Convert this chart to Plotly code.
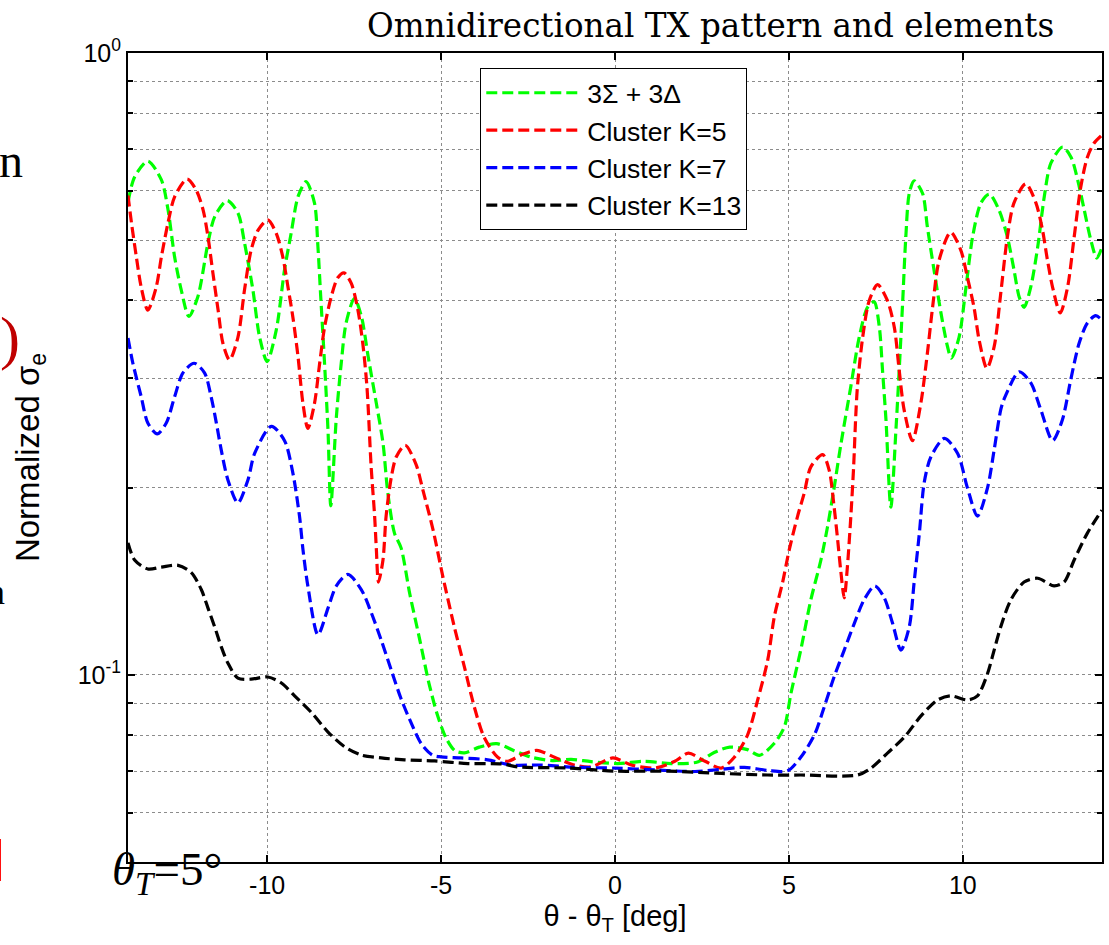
import plotly.graph_objects as go

# ---------------- data ----------------
green_x = [-14.00, -13.81, -13.43, -13.04, -12.85, -12.66, -12.47, -12.25, -11.99, -11.70, -11.51, -11.15,
           -10.84, -10.65, -10.41, -10.22, -10.00, -9.74, -9.50, -9.31, -9.11, -8.88, -8.64, -8.54, -8.46,
           -8.35, -8.25, -8.17, -8.01, -7.87, -7.73, -7.49, -7.29, -7.10, -6.86, -6.67, -6.53, -6.34, -6.15,
           -5.90, -5.60, -5.35, -5.10, -4.85, -4.60, -4.33, -3.90, -3.40, -2.90, -2.41, -1.80, -1.26, -0.69,
           0.08, 0.84, 1.61, 2.37, 2.85, 3.30, 3.81, 4.15, 4.58, 4.87, 5.06, 5.34, 5.63, 5.92, 6.11, 6.30,
           6.50, 6.78, 7.02, 7.26, 7.45, 7.60, 7.69, 7.79, 7.93, 8.08, 8.17, 8.27, 8.36, 8.46, 8.60, 8.84,
           8.98, 9.17, 9.37, 9.56, 9.67, 9.89, 10.09, 10.28, 10.52, 10.76, 11.04, 11.28, 11.47, 11.62, 11.76,
           11.95, 12.15, 12.34, 12.53, 12.87, 13.11, 13.30, 13.49, 13.68, 13.85, 14.00]
green_y = [0.575, 0.632, 0.670, 0.625, 0.560, 0.470, 0.416, 0.377, 0.406, 0.495, 0.545, 0.579,
           0.553, 0.495, 0.416, 0.350, 0.319, 0.358, 0.448, 0.513, 0.588, 0.621, 0.574, 0.488, 0.406,
           0.317, 0.247, 0.187, 0.260, 0.317, 0.368, 0.403, 0.377, 0.326, 0.273, 0.236, 0.196, 0.169, 0.160,
           0.135, 0.113, 0.097, 0.086, 0.079, 0.0755, 0.0749, 0.0765, 0.0775, 0.0755, 0.0737, 0.0728, 0.0731, 0.0725,
           0.0720, 0.0726, 0.0720, 0.0724, 0.0750, 0.0765, 0.0758, 0.0742, 0.0776, 0.0825, 0.0935, 0.1096, 0.132, 0.153, 0.173, 0.200,
           0.236, 0.291, 0.349, 0.390, 0.398, 0.362, 0.309, 0.257, 0.186, 0.250, 0.309, 0.398, 0.506, 0.595, 0.623, 0.595,
           0.525, 0.448, 0.382, 0.337, 0.323, 0.349, 0.420, 0.506, 0.574, 0.593, 0.559, 0.506, 0.448, 0.405, 0.390,
           0.420, 0.487, 0.587, 0.665, 0.706, 0.680, 0.625, 0.559, 0.500, 0.468, 0.487]

red_x = [-14.00, -13.90, -13.76, -13.62, -13.43, -13.19, -13.04, -12.85, -12.66, -12.30, -12.04, -11.84, -11.70,
         -11.56, -11.41, -11.27, -11.08, -10.84, -10.65, -10.46, -10.26, -9.98, -9.74, -9.55, -9.40, -9.26,
         -9.11, -8.97, -8.83, -8.64, -8.49, -8.35, -8.16, -7.97, -7.79, -7.58, -7.39, -7.25, -7.13, -7.01,
         -6.91, -6.86, -6.80, -6.67, -6.58, -6.43, -6.29, -6.03, -5.72, -5.52, -5.23, -4.95, -4.62, -4.33,
         -4.04, -3.76, -3.37, -3.09, -2.70, -2.25, -1.74, -1.17, -0.69, -0.06, 0.47, 1.15, 1.72, 2.11, 2.59,
         3.05, 3.43, 3.81, 4.10, 4.39, 4.58, 4.82, 5.01, 5.25, 5.44, 5.63, 5.97, 6.16, 6.30, 6.40, 6.49,
         6.59, 6.68, 6.78, 6.86, 6.92, 6.97, 7.12, 7.31, 7.55, 7.83, 8.03, 8.17, 8.31, 8.55, 8.79, 8.98,
         9.13, 9.32, 9.65, 9.94, 10.13, 10.32, 10.47, 10.69, 10.90, 11.09, 11.28, 11.47, 11.81, 12.10, 12.29,
         12.43, 12.58, 12.80, 13.01, 13.20, 13.39, 13.58, 13.77, 14.00]
red_y = [0.590, 0.533, 0.470, 0.420, 0.386, 0.420, 0.470, 0.533, 0.587, 0.627, 0.602, 0.559, 0.506,
         0.443, 0.386, 0.341, 0.321, 0.349, 0.416, 0.482, 0.519, 0.539, 0.513, 0.470, 0.420, 0.376,
         0.324, 0.273, 0.249, 0.273, 0.317, 0.362, 0.405, 0.435, 0.443, 0.426, 0.386, 0.341, 0.290, 0.216,
         0.180, 0.159, 0.141, 0.153, 0.180, 0.208, 0.224, 0.234, 0.218, 0.198, 0.171, 0.144, 0.1195, 0.103,
         0.0886, 0.0793, 0.0737, 0.0726, 0.0743, 0.0756, 0.0737, 0.0716, 0.0711, 0.0735, 0.0716, 0.0708, 0.0726, 0.0748, 0.0726,
         0.0708, 0.0737, 0.0800, 0.0910, 0.1056, 0.124, 0.141, 0.159, 0.180, 0.196, 0.216, 0.226, 0.213, 0.186, 0.165, 0.147,
         0.133, 0.149, 0.180, 0.216, 0.260, 0.291, 0.349, 0.400, 0.424, 0.400, 0.362, 0.309, 0.267, 0.238, 0.273, 0.329,
         0.390, 0.465, 0.515, 0.482, 0.436, 0.390, 0.345, 0.311, 0.337, 0.411, 0.506, 0.574, 0.616, 0.574, 0.519,
         0.465, 0.420, 0.382, 0.420, 0.506, 0.609, 0.680, 0.716, 0.738]

blue_x = [-14.00, -13.86, -13.62, -13.43, -13.16, -12.90, -12.66, -12.42, -12.10, -11.80, -11.61, -11.46, -11.32,
          -11.13, -10.84, -10.55, -10.36, -9.88, -9.50, -9.26, -9.07, -8.97, -8.83, -8.54, -8.25, -8.01, -7.68,
          -7.29, -7.01, -6.72, -6.43, -6.15, -5.86, -5.57, -5.25, -5.00, -4.43, -3.66, -2.99, -2.13, -1.17,
          0.00, 1.15, 2.30, 3.07, 3.72, 4.39, 4.96, 5.34, 5.73, 6.01, 6.30, 6.59, 6.88, 7.16, 7.47, 7.74,
          7.98, 8.22, 8.46, 8.60, 8.75, 8.89, 9.08, 9.47, 9.85, 10.13, 10.42, 10.71, 10.90, 11.09, 11.19,
          11.62, 11.95, 12.24, 12.58, 12.86, 13.10, 13.34, 13.58, 13.82, 14.00]
blue_y = [0.348, 0.317, 0.280, 0.254, 0.244, 0.254, 0.280, 0.306, 0.317, 0.306, 0.280, 0.254, 0.230,
          0.206, 0.189, 0.206, 0.227, 0.251, 0.238, 0.211, 0.180, 0.159, 0.139, 0.116, 0.128, 0.139, 0.145,
          0.137, 0.126, 0.1137, 0.1017, 0.0915, 0.0837, 0.0775, 0.0743, 0.0738, 0.0735, 0.0730, 0.0716, 0.0716, 0.0710,
          0.0708, 0.0703, 0.0699, 0.0705, 0.0710, 0.0702, 0.0701, 0.0737, 0.0800, 0.0886, 0.0993, 0.1096, 0.121, 0.132, 0.139, 0.133,
          0.121, 0.1096, 0.1195, 0.141, 0.169, 0.204, 0.224, 0.240, 0.227, 0.200, 0.180, 0.200, 0.230, 0.267, 0.278,
          0.307, 0.295, 0.267, 0.238, 0.257, 0.298, 0.341, 0.368, 0.378, 0.372]

black_x = [-14.00, -13.81, -13.43, -13.04, -12.56, -12.18, -11.89, -11.70, -11.51, -11.32, -11.13, -10.84,
           -10.46, -9.98, -9.59, -9.21, -8.73, -8.25, -7.77, -7.29, -6.72, -6.05, -5.19, -4.23, -3.26, -2.78,
           -1.34, 0.00, 1.53, 3.07, 4.39, 5.34, 6.97, 7.36, 7.84, 8.31, 8.79, 9.27, 9.66, 10.13, 10.42,
           10.71, 10.90, 11.09, 11.38, 11.76, 12.15, 12.62, 12.91, 13.20, 13.58, 14.00]
black_y = [0.163, 0.153, 0.148, 0.149, 0.150, 0.146, 0.137, 0.128, 0.1195, 0.111, 0.1045, 0.0988,
           0.0984, 0.0992, 0.0970, 0.0925, 0.0870, 0.0809, 0.0766, 0.0743, 0.0735, 0.0730, 0.0727, 0.0720, 0.0719, 0.0711,
           0.0708, 0.0700, 0.0700, 0.0694, 0.0690, 0.0690, 0.0690, 0.0708, 0.0749, 0.0793, 0.0858, 0.0911, 0.0925, 0.0911, 0.0925,
           0.1005, 0.1096, 0.1195, 0.132, 0.141, 0.143, 0.139, 0.141, 0.153, 0.169, 0.184]

series_names = ["3\u03a3 + 3\u0394", "Cluster K=5", "Cluster K=7", "Cluster K=13"]
series_colors = ["#00ff00", "#ff0000", "#0000ff", "#000000"]

x_ticks = [-10, -5, 0, 5, 10]
x_tick_labels = ["-10", "-5", "0", "5", "10"]
y_major_ticks = [0.1, 1]
y_major_labels = ["10<sup>-1</sup>", "10<sup>0</sup>"]
y_minor_ticks = [0.05, 0.06, 0.07, 0.08, 0.09, 0.2, 0.3, 0.4, 0.5, 0.6, 0.7, 0.8, 0.9]

title_text = "Omnidirectional TX pattern and elements"
x_title = "\u03b8 - \u03b8<sub>T</sub> [deg]"
y_title = "Normalized \u03c3<sub>e</sub>"

# ---------------- figure ----------------
W, H = 1109, 945
ML, MR, MT, MB = 128, 5, 53, 83
PW, PH = W - ML - MR, H - MT - MB

def px_x(px):
    return (px - ML) / PW

def px_y(py):
    return (H - MB - py) / PH

fig = go.Figure()
for xs, ys, name, col in zip([green_x, red_x, blue_x, black_x],
                             [green_y, red_y, blue_y, black_y],
                             series_names, series_colors):
    fig.add_trace(go.Scatter(
        x=xs, y=ys, name=name, mode="lines",
        line=dict(color=col, width=3.2, dash="11px,5px", shape="spline", smoothing=0.8),
    ))

grid_col = "#8c8c8c"
fig.update_layout(
    width=W, height=H,
    margin=dict(l=ML, r=MR, t=MT, b=MB),
    paper_bgcolor="white", plot_bgcolor="white",
    font=dict(family="Liberation Sans, Arial", color="black"),
    title=dict(text=title_text, x=367 / W, xanchor="left", xref="container",
               y=1 - 26 / H, yanchor="middle", yref="container",
               font=dict(family="DejaVu Serif", size=32.6, color="black")),
    legend=dict(x=px_x(481), y=px_y(68), xanchor="left", yanchor="top",
                bgcolor="white", bordercolor="black", borderwidth=1,
                font=dict(family="Liberation Sans, Arial", size=26.5, color="black"),
                itemwidth=96, tracegroupgap=0),
    showlegend=True,
)
fig.update_xaxes(
    range=[-14, 14], tickmode="array", tickvals=x_ticks, ticktext=x_tick_labels,
    ticks="inside", ticklen=7, tickwidth=1.5, tickcolor="black",
    showline=True, linecolor="black", linewidth=2, mirror="ticks",
    showgrid=True, gridcolor=grid_col, gridwidth=1, griddash="dot",
    zeroline=False, tickfont=dict(size=25, family="Liberation Sans, Arial"),
    title=dict(text=x_title, font=dict(size=29, family="Liberation Sans, Arial"), standoff=8),
)
fig.update_yaxes(
    type="log", range=[-1.30103, 0], tickmode="array", tickvals=y_major_ticks, ticktext=y_major_labels,
    ticks="inside", ticklen=7, tickwidth=1.5, tickcolor="black",
    showline=True, linecolor="black", linewidth=2, mirror="ticks",
    showgrid=True, gridcolor=grid_col, gridwidth=1, griddash="dot",
    zeroline=False, tickfont=dict(size=25, family="Liberation Sans, Arial"),
    minor=dict(tickmode="array", tickvals=y_minor_ticks, ticks="inside", ticklen=5,
               tickcolor="black", showgrid=True, gridcolor=grid_col, griddash="dot", gridwidth=1),
    title=dict(text=y_title, font=dict(size=33, family="Liberation Sans, Arial"), standoff=28),
)

annos = [
    dict(text="<i>\u03b8<sub>T</sub></i>=5\u00b0", x=px_x(110), y=px_y(872), xanchor="left", yanchor="middle",
         font=dict(family="Liberation Serif", size=47, color="black")),
    dict(text="n", x=px_x(25), y=px_y(160), xanchor="right", yanchor="middle",
         font=dict(family="Liberation Serif", size=48, color="black")),
    dict(text=")", x=px_x(22), y=px_y(338), xanchor="right", yanchor="middle",
         font=dict(family="Liberation Serif", size=60, color="#c00000")),
    dict(text="]", x=px_x(7), y=px_y(857), xanchor="right", yanchor="middle",
         font=dict(family="Liberation Serif", size=50, color="#ff0000")),
    dict(text="n", x=px_x(7), y=px_y(592), xanchor="right", yanchor="middle",
         font=dict(family="Liberation Serif", size=36, color="black")),
]
for a in annos:
    fig.add_annotation(xref="paper", yref="paper", showarrow=False, **a)

fig.write_html("out.html", config={"displayModeBar": False},
               post_script="document.body.style.margin='0px';")
